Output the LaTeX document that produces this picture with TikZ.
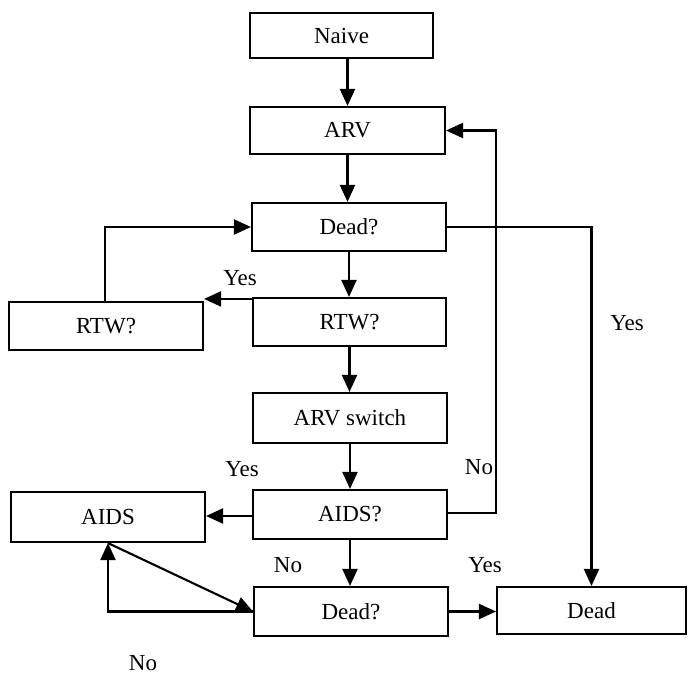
\documentclass[tikz,border=0pt]{standalone}
\usepackage{fontspec}
\setmainfont{Liberation Serif}
\usetikzlibrary{arrows.meta,calc}

\tikzset{
  box/.style={draw, line width=2.1pt, rectangle, inner sep=0pt,
              font=\fontsize{23}{27}\selectfont},
  lbl/.style={inner sep=0pt, font=\fontsize{23}{27}\selectfont},
  flow/.style={line width=2.1pt, -{Triangle[length=17pt,width=15pt]}}
}

\begin{document}
\begin{tikzpicture}[x=1pt, y=-1pt]
\useasboundingbox (0,0) rectangle (688,677);

% main column
\node[box, minimum width=183pt, minimum height=45pt] (naive) at (341.5,35.5) {Naive};
\node[box, minimum width=195pt, minimum height=47pt] (arv)   at (347.5,130.5) {ARV};
\node[box, minimum width=194pt, minimum height=48pt] (dead1) at (349,227) {Dead?};
\node[box, minimum width=193pt, minimum height=48pt] (rtw)   at (349.5,322) {RTW?};
\node[box, minimum width=194pt, minimum height=50pt] (arvsw) at (350,418) {ARV switch};
\node[box, minimum width=194pt, minimum height=49pt] (aidsq) at (350,514.5) {AIDS?};
\node[box, minimum width=194pt, minimum height=49pt] (dead2) at (351,611.5) {Dead?};

% side boxes
\node[box, minimum width=194pt, minimum height=48pt] (rtwL)  at (106,326) {RTW?};
\node[box, minimum width=194pt, minimum height=50pt] (aids)  at (108,517) {AIDS};
\node[box, minimum width=189pt, minimum height=47pt] (dead)  at (591.5,610.5) {Dead};

% downward flow
\draw[flow] (arv.north |- naive.south) -- (arv.north);
\draw[flow] (arv.south) -- (arv.south |- dead1.north);
\draw[flow] (dead1.south) -- (dead1.south |- rtw.north);
\draw[flow] (rtw.south) -- (rtw.south |- arvsw.north);
\draw[flow] (arvsw.south) -- (arvsw.south |- aidsq.north);
\draw[flow] (aidsq.south) -- (aidsq.south |- dead2.north);

% return to work loop
\coordinate (rtwtop) at ($(rtw.north west)+(0,2)$);
\draw[flow] (rtwtop) -- (rtwtop -| rtwL.east);
\coordinate (rtwup) at (105,0);
\draw[flow] (rtwL.north -| rtwup) |- (dead1.west);

% AIDS branch
\coordinate (aidsy) at (0,516);
\draw[flow] (aidsq.west |- aidsy) -- (aids.east |- aidsy);
\coordinate (back) at (496,513);
\draw[flow] (aidsq.east |- back) -- (back) |- (arv.east);

% death branches
\draw[flow] (dead1.east) -| (dead.north);
\draw[flow] (dead2.east) -- (dead2.east -| dead.west);

% AIDS / Dead? exchange
\draw[flow] (aids.south) -- (dead2.west);
\draw[flow] (dead2.west) -| (aids.south);

% branch labels
\node[lbl] (y1) at (240,278) {Yes};
\node[lbl] (y2) at (627,323) {Yes};
\node[lbl] (y3) at (242,469) {Yes};
\node[lbl] (n1) at (479,467) {No};
\node[lbl] (n2) at (288,565) {No};
\node[lbl] (y4) at (485,565) {Yes};
\node[lbl] (n3) at (143,663) {No};
\end{tikzpicture}
\end{document}
